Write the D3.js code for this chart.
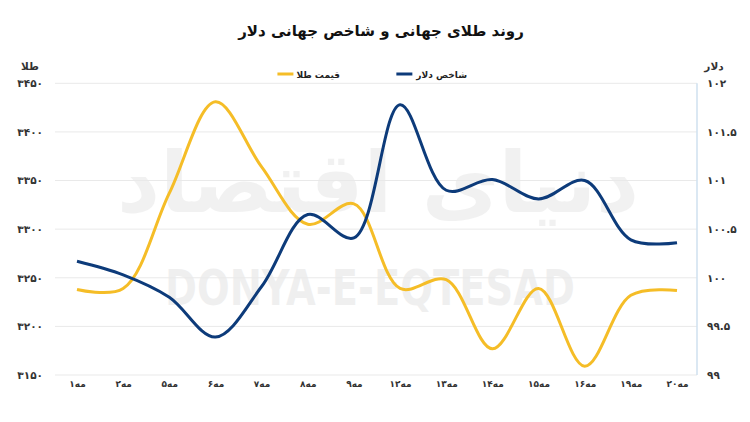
<!DOCTYPE html>
<html>
<head>
<meta charset="utf-8">
<script src="https://cdn.jsdelivr.net/npm/d3@7"></script>
<style>
  html, body { margin: 0; padding: 0; background: #fff; }
  svg { display: block; }
  text { font-family: "DejaVu Sans", "Noto Sans", sans-serif; }
</style>
</head>
<body>
<svg id="chart" width="750" height="422"></svg>
<script>
// ---- data ----
const categories = ["۱مه","۲مه","۵مه","۶مه","۷مه","۸مه","۹مه","۱۲مه","۱۳مه","۱۴مه","۱۵مه","۱۶مه","۱۹مه","۲۰مه"];
const goldPrice = [3238, 3239, 3337, 3431, 3364, 3305, 3326, 3239, 3248, 3177, 3239, 3159, 3232, 3237];
const dollarIndex = [100.17, 100.03, 99.80, 99.39, 99.91, 100.65, 100.41, 101.78, 100.90, 101.01, 100.81, 101.00, 100.39, 100.36];
const goldTicks = [3150, 3200, 3250, 3300, 3350, 3400, 3450];
const goldTickLabels = ["۳۱۵۰","۳۲۰۰","۳۲۵۰","۳۳۰۰","۳۳۵۰","۳۴۰۰","۳۴۵۰"];
const dollarTicks = [99, 99.5, 100, 100.5, 101, 101.5, 102];
const dollarTickLabels = ["۹۹","۹۹.۵","۱۰۰","۱۰۰.۵","۱۰۱","۱۰۱.۵","۱۰۲"];
const title = "روند طلای جهانی و شاخص جهانی دلار";
const seriesNames = ["شاخص دلار", "قیمت طلا"];
const leftAxisTitle = "طلا";
const rightAxisTitle = "دلار";

(function () {
// ---- layout ----
const svg = d3.select("#chart");
const pLeft = 55, pRight = 697, pTop = 83.3, pBottom = 375;
const goldColor = "#f5bd27", dollarColor = "#0d3b7a";

const x = d3.scalePoint().domain(categories).range([77, 677]);
const yGold = d3.scaleLinear().domain([3150, 3450]).range([pBottom, pTop]);
const yDollar = d3.scaleLinear().domain([99, 102]).range([pBottom, pTop]);

// watermark
svg.append("text")
  .attr("x", 378).attr("y", 212)
  .attr("text-anchor", "middle")
  .attr("direction", "rtl")
  .attr("font-size", 84).attr("font-weight", "bold")
  .attr("fill", "#000").attr("opacity", 0.05)
  .text("دنیای اقتصاد");
svg.append("text")
  .attr("x", 370).attr("y", 305)
  .attr("text-anchor", "middle")
  .attr("font-family", "Liberation Sans, Arial, sans-serif")
  .attr("font-size", 50).attr("font-weight", "bold")
  .attr("textLength", 410).attr("lengthAdjust", "spacingAndGlyphs")
  .attr("fill", "#000").attr("opacity", 0.06)
  .text("DONYA-E-EQTESAD");

// gridlines
svg.append("g").selectAll("line").data(goldTicks).join("line")
  .attr("x1", pLeft).attr("x2", pRight)
  .attr("y1", d => yGold(d)).attr("y2", d => yGold(d))
  .attr("stroke", "#e9e9e9").attr("stroke-width", 1);

// right axis line
svg.append("line")
  .attr("x1", pRight).attr("x2", pRight).attr("y1", pTop).attr("y2", pBottom)
  .attr("stroke", "#cfe1ef").attr("stroke-width", 1.5);

// left axis
const leftAxis = d3.axisLeft(yGold).tickValues(goldTicks)
  .tickFormat((d, i) => goldTickLabels[i]).tickSize(0).tickPadding(0);
const gL = svg.append("g").attr("transform", "translate(43,0)").call(leftAxis);
gL.select(".domain").remove();
gL.selectAll("text").attr("font-size", 10.5).attr("font-weight", "bold").attr("fill", "#333")
  .attr("font-family", "DejaVu Sans, sans-serif");

// right axis
const rightAxis = d3.axisRight(yDollar).tickValues(dollarTicks)
  .tickFormat((d, i) => dollarTickLabels[i]).tickSize(0).tickPadding(0);
const gR = svg.append("g").attr("transform", "translate(707,0)").call(rightAxis);
gR.select(".domain").remove();
gR.selectAll("text").attr("font-size", 10.5).attr("font-weight", "bold").attr("fill", "#333")
  .attr("font-family", "DejaVu Sans, sans-serif");

// x axis
const xAxis = d3.axisBottom(x).tickSize(0).tickPadding(0);
const gX = svg.append("g").attr("transform", "translate(0,381)").call(xAxis);
gX.select(".domain").remove();
gX.selectAll("text").attr("font-size", 9).attr("font-weight", "bold").attr("fill", "#333")
  .attr("font-family", "DejaVu Sans, sans-serif");

// axis titles
svg.append("text").attr("x", 30).attr("y", 70).attr("text-anchor", "middle")
  .attr("font-size", 10.5).attr("font-weight", "bold").attr("fill", "#333").text(leftAxisTitle);
svg.append("text").attr("x", 714).attr("y", 70).attr("text-anchor", "middle")
  .attr("font-size", 10.5).attr("font-weight", "bold").attr("fill", "#333").text(rightAxisTitle);

// title
svg.append("text").attr("x", 381).attr("y", 36).attr("text-anchor", "middle")
  .attr("direction", "rtl")
  .attr("font-size", 15).attr("font-weight", "bold").attr("fill", "#111").text(title);

// lines
const curve = d3.curveCatmullRom.alpha(0.5);
const goldLine = d3.line().x((d, i) => x(categories[i])).y(d => yGold(d)).curve(curve);
const dollarLine = d3.line().x((d, i) => x(categories[i])).y(d => yDollar(d)).curve(curve);
svg.append("path").datum(goldPrice).attr("d", goldLine)
  .attr("fill", "none").attr("stroke", goldColor).attr("stroke-width", 3);
svg.append("path").datum(dollarIndex).attr("d", dollarLine)
  .attr("fill", "none").attr("stroke", dollarColor).attr("stroke-width", 3);

// legend
const legend = [
  { name: seriesNames[0], color: dollarColor, tx: 467 },
  { name: seriesNames[1], color: goldColor, tx: 340 }
];
legend.forEach(l => {
  const t = svg.append("text").attr("x", l.tx).attr("y", 75).attr("text-anchor", "end")
    .attr("dominant-baseline", "middle")
    .attr("font-size", 9).attr("font-weight", "bold").attr("fill", "#222").text(l.name);
  const bb = t.node().getBBox();
  svg.append("line").attr("x1", bb.x - 19).attr("x2", bb.x - 3).attr("y1", 74).attr("y2", 74)
    .attr("stroke", l.color).attr("stroke-width", 3);
});
})();
</script>
</body>
</html>
